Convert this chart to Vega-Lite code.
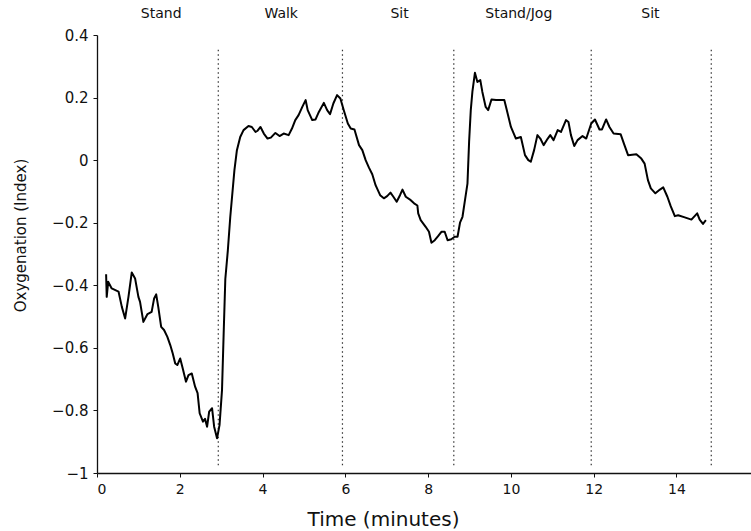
{
  "$schema": "https://vega.github.io/schema/vega-lite/v6.json",
  "width": 654,
  "height": 438,
  "autosize": "none",
  "padding": {"left": 97, "top": 35, "right": 0, "bottom": 58},
  "background": "white",
  "config": {
    "view": {"stroke": null},
    "font": "DejaVu Sans",
    "axis": {
      "domainColor": "#111",
      "tickColor": "#111",
      "labelColor": "#111",
      "titleColor": "#111",
      "grid": false,
      "labelFont": "DejaVu Sans",
      "titleFont": "DejaVu Sans",
      "titleFontWeight": "normal",
      "domainWidth": 1.3,
      "tickWidth": 1
    }
  },
  "datasets": {
    "trace": [
      {"t":0.22,"v":-0.365},{"t":0.235,"v":-0.437},{"t":0.27,"v":-0.389},{"t":0.355,"v":-0.41},{"t":0.52,"v":-0.42},{"t":0.60,"v":-0.469},{"t":0.68,"v":-0.506},{"t":0.76,"v":-0.437},{"t":0.84,"v":-0.359},{"t":0.92,"v":-0.378},{"t":1.00,"v":-0.437},{"t":1.04,"v":-0.453},{"t":1.12,"v":-0.517},{"t":1.22,"v":-0.492},{"t":1.32,"v":-0.485},{"t":1.38,"v":-0.442},{"t":1.43,"v":-0.429},{"t":1.48,"v":-0.469},{"t":1.55,"v":-0.533},{"t":1.62,"v":-0.543},{"t":1.70,"v":-0.565},{"t":1.77,"v":-0.591},{"t":1.83,"v":-0.618},{"t":1.89,"v":-0.65},{"t":1.94,"v":-0.655},{"t":2.01,"v":-0.634},{"t":2.07,"v":-0.665},{"t":2.15,"v":-0.708},{"t":2.21,"v":-0.687},{"t":2.29,"v":-0.682},{"t":2.37,"v":-0.724},{"t":2.43,"v":-0.745},{"t":2.48,"v":-0.809},{"t":2.56,"v":-0.836},{"t":2.61,"v":-0.827},{"t":2.66,"v":-0.852},{"t":2.71,"v":-0.804},{"t":2.78,"v":-0.793},{"t":2.83,"v":-0.852},{"t":2.90,"v":-0.889},{"t":2.96,"v":-0.847},{"t":3.02,"v":-0.735},{"t":3.06,"v":-0.554},{"t":3.10,"v":-0.38},{"t":3.16,"v":-0.29},{"t":3.22,"v":-0.181},{"t":3.32,"v":-0.032},{"t":3.38,"v":0.032},{"t":3.46,"v":0.074},{"t":3.54,"v":0.096},{"t":3.66,"v":0.109},{"t":3.74,"v":0.106},{"t":3.83,"v":0.09},{"t":3.88,"v":0.094},{"t":3.95,"v":0.106},{"t":4.03,"v":0.085},{"t":4.12,"v":0.069},{"t":4.20,"v":0.072},{"t":4.31,"v":0.087},{"t":4.41,"v":0.077},{"t":4.51,"v":0.085},{"t":4.63,"v":0.08},{"t":4.71,"v":0.101},{"t":4.79,"v":0.128},{"t":4.87,"v":0.144},{"t":4.96,"v":0.17},{"t":5.04,"v":0.192},{"t":5.09,"v":0.16},{"t":5.20,"v":0.128},{"t":5.28,"v":0.13},{"t":5.36,"v":0.154},{"t":5.48,"v":0.183},{"t":5.56,"v":0.16},{"t":5.63,"v":0.147},{"t":5.71,"v":0.181},{"t":5.80,"v":0.208},{"t":5.88,"v":0.197},{"t":5.96,"v":0.16},{"t":6.06,"v":0.117},{"t":6.13,"v":0.101},{"t":6.22,"v":0.098},{"t":6.33,"v":0.048},{"t":6.41,"v":0.032},{"t":6.49,"v":0.0},{"t":6.57,"v":-0.024},{"t":6.65,"v":-0.045},{"t":6.73,"v":-0.08},{"t":6.84,"v":-0.112},{"t":6.93,"v":-0.122},{"t":7.01,"v":-0.115},{"t":7.09,"v":-0.104},{"t":7.16,"v":-0.117},{"t":7.24,"v":-0.133},{"t":7.32,"v":-0.112},{"t":7.38,"v":-0.094},{"t":7.46,"v":-0.117},{"t":7.58,"v":-0.128},{"t":7.66,"v":-0.138},{"t":7.74,"v":-0.145},{"t":7.76,"v":-0.17},{"t":7.82,"v":-0.192},{"t":7.94,"v":-0.213},{"t":8.02,"v":-0.229},{"t":8.08,"v":-0.264},{"t":8.16,"v":-0.256},{"t":8.24,"v":-0.243},{"t":8.32,"v":-0.229},{"t":8.40,"v":-0.229},{"t":8.47,"v":-0.256},{"t":8.56,"v":-0.253},{"t":8.64,"v":-0.245},{"t":8.71,"v":-0.245},{"t":8.77,"v":-0.2},{"t":8.83,"v":-0.181},{"t":8.89,"v":-0.128},{"t":8.95,"v":-0.075},{"t":8.99,"v":0.06},{"t":9.03,"v":0.16},{"t":9.07,"v":0.22},{"t":9.13,"v":0.279},{"t":9.19,"v":0.25},{"t":9.26,"v":0.256},{"t":9.31,"v":0.218},{"t":9.39,"v":0.17},{"t":9.45,"v":0.16},{"t":9.53,"v":0.194},{"t":9.64,"v":0.192},{"t":9.84,"v":0.192},{"t":9.90,"v":0.16},{"t":10.0,"v":0.106},{"t":10.12,"v":0.069},{"t":10.24,"v":0.074},{"t":10.34,"v":0.016},{"t":10.42,"v":0.0},{"t":10.48,"v":-0.005},{"t":10.56,"v":0.032},{"t":10.64,"v":0.08},{"t":10.71,"v":0.069},{"t":10.79,"v":0.048},{"t":10.89,"v":0.069},{"t":10.95,"v":0.08},{"t":11.03,"v":0.064},{"t":11.13,"v":0.096},{"t":11.21,"v":0.09},{"t":11.33,"v":0.128},{"t":11.39,"v":0.122},{"t":11.45,"v":0.08},{"t":11.53,"v":0.045},{"t":11.61,"v":0.064},{"t":11.73,"v":0.077},{"t":11.82,"v":0.069},{"t":11.94,"v":0.117},{"t":12.03,"v":0.13},{"t":12.14,"v":0.098},{"t":12.2,"v":0.098},{"t":12.30,"v":0.13},{"t":12.38,"v":0.106},{"t":12.48,"v":0.085},{"t":12.65,"v":0.083},{"t":12.73,"v":0.053},{"t":12.83,"v":0.016},{"t":13.03,"v":0.019},{"t":13.15,"v":0.005},{"t":13.23,"v":-0.011},{"t":13.31,"v":-0.064},{"t":13.38,"v":-0.09},{"t":13.49,"v":-0.106},{"t":13.60,"v":-0.094},{"t":13.68,"v":-0.087},{"t":13.78,"v":-0.117},{"t":13.86,"v":-0.147},{"t":13.96,"v":-0.179},{"t":14.04,"v":-0.176},{"t":14.20,"v":-0.183},{"t":14.36,"v":-0.19},{"t":14.50,"v":-0.17},{"t":14.56,"v":-0.19},{"t":14.64,"v":-0.204},{"t":14.71,"v":-0.192}
    ],
    "events": [
      {"t": 2.93}, {"t": 5.93}, {"t": 8.62}, {"t": 11.94}, {"t": 14.84}
    ],
    "labels": [
      {"t": 1.55, "label": "Stand"},
      {"t": 4.45, "label": "Walk"},
      {"t": 7.31, "label": "Sit"},
      {"t": 10.19, "label": "Stand/Jog"},
      {"t": 13.37, "label": "Sit"}
    ]
  },
  "layer": [
    {
      "data": {"name": "events"},
      "mark": {"type": "rule", "strokeDash": [1.5, 3], "color": "#333", "strokeWidth": 1.2},
      "encoding": {
        "x": {"field": "t", "type": "quantitative"},
        "y": {"datum": -0.975},
        "y2": {"datum": 0.36}
      }
    },
    {
      "data": {"name": "trace"},
      "mark": {"type": "line", "color": "#000", "strokeWidth": 2, "strokeJoin": "round"},
      "encoding": {
        "x": {
          "field": "t", "type": "quantitative",
          "scale": {"domain": [0, 15.8], "nice": false, "zero": false},
          "axis": {
            "values": [0, 2, 4, 6, 8, 10, 12, 14],
            "title": "Time (minutes)",
            "titleFontSize": 20,
            "titleX": 286,
            "titleY": 52,
            "titleAlign": "center",
            "titleBaseline": "alphabetic",
            "labelFontSize": 14,
            "labelPadding": 5,
            "tickSize": 4
          }
        },
        "y": {
          "field": "v", "type": "quantitative",
          "scale": {"domain": [-1, 0.4], "nice": false, "zero": false},
          "axis": {
            "values": [-1, -0.8, -0.6, -0.4, -0.2, 0, 0.2, 0.4],
            "labelExpr": "format(datum.value, '~g')",
            "title": "Oxygenation (Index)",
            "titleFontSize": 15,
            "titleX": -77,
            "titleY": 200,
            "titleAlign": "center",
            "titleBaseline": "middle",
            "labelFontSize": 15,
            "labelPadding": 5,
            "tickSize": 4
          }
        }
      }
    },
    {
      "data": {"name": "labels"},
      "mark": {"type": "text", "fontSize": 14, "color": "#111", "baseline": "middle", "align": "center", "font": "DejaVu Sans"},
      "encoding": {
        "x": {"field": "t", "type": "quantitative"},
        "y": {"datum": 0.466},
        "text": {"field": "label"}
      }
    }
  ]
}
